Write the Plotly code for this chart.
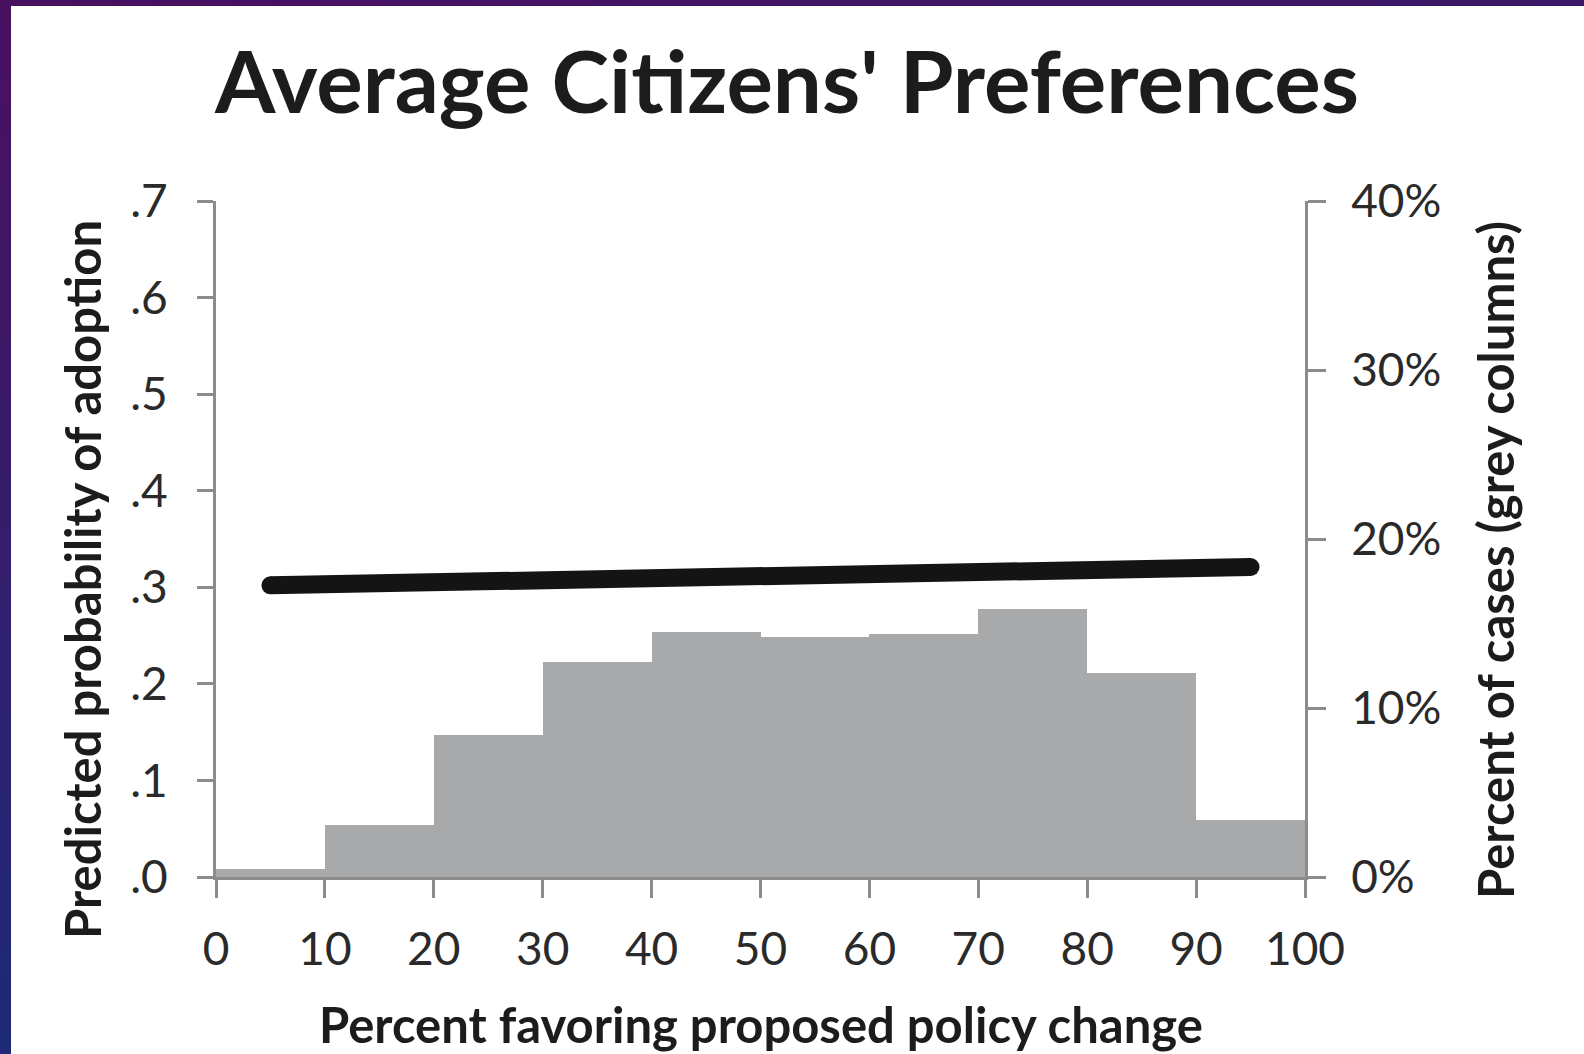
import plotly.graph_objects as go

# ---- data ----
bin_centers = [5, 15, 25, 35, 45, 55, 65, 75, 85, 95]
pct_cases = [0.5, 3.1, 8.4, 12.7, 14.5, 14.2, 14.35, 15.85, 12.1, 3.4]
line_x = [5, 50, 95]
line_y = [0.302, 0.311, 0.321]
left_tickvals = [0, 0.1, 0.2, 0.3, 0.4, 0.5, 0.6, 0.7]
left_ticktext = [".0", ".1", ".2", ".3", ".4", ".5", ".6", ".7"]
right_tickvals = [0, 10, 20, 30, 40]
right_ticktext = ["0%", "10%", "20%", "30%", "40%"]
x_tickvals = [0, 10, 20, 30, 40, 50, 60, 70, 80, 90, 100]

W, H = 1584, 1054
L, R, T, B = 216, 1305, 201, 877  # plot area in pixels

def px(x):
    return (x - L) / (R - L)

def py(y):
    return (B - y) / (B - T)

FONT = "Lato"
AX = "#8c8c8c"
TXT = "#2a2a2a"

fig = go.Figure()
fig.add_trace(go.Bar(x=bin_centers, y=pct_cases, width=10, marker=dict(color="#a8a9ab", line=dict(width=0)),
                     yaxis="y", showlegend=False))
fig.add_trace(go.Scatter(x=line_x, y=line_y, mode="lines", line=dict(color="#141414", width=18),
                         yaxis="y2", showlegend=False))
fig.add_trace(go.Scatter(x=[line_x[0], line_x[-1]], y=[line_y[0], line_y[-1]], mode="markers",
                         marker=dict(color="#141414", size=18, line=dict(width=0)), yaxis="y2", showlegend=False))

def mix(a, b, t):
    return "rgb(%d,%d,%d)" % tuple(int(a[k] + (b[k] - a[k]) * t) for k in range(3))

shapes = []
# purple/blue border: left vertical gradient band and top horizontal gradient band
n = 40
cl0, cl1 = (74, 16, 96), (30, 42, 120)
for i in range(n):
    t = i / (n - 1)
    shapes.append(dict(type="rect", xref="paper", yref="paper", x0=px(0), x1=px(11),
                       y0=py((i + 1) * H / n + 1), y1=py(i * H / n), fillcolor=mix(cl0, cl1, t),
                       line=dict(width=0), layer="above"))
ct0, ct1 = (74, 16, 96), (58, 26, 104)
for i in range(n):
    t = i / (n - 1)
    shapes.append(dict(type="rect", xref="paper", yref="paper", x0=px(i * W / n), x1=px((i + 1) * W / n + 1),
                       y0=py(6), y1=py(0), fillcolor=mix(ct0, ct1, t), line=dict(width=0), layer="above"))

annotations = [
    dict(text="<b>Average Citizens' Preferences</b>", xref="paper", yref="paper", x=px(786), y=py(80),
         showarrow=False, font=dict(family=FONT, size=87, color="#1c1c1c"), xanchor="center", yanchor="middle"),
    dict(text="<b>Predicted probability of adoption</b>", xref="paper", yref="paper", x=px(82), y=py(580),
         showarrow=False, textangle=-90, font=dict(family=FONT, size=49, color="#1c1c1c"), xanchor="center", yanchor="middle"),
    dict(text="<b>Percent of cases (grey columns)</b>", xref="paper", yref="paper", x=px(1495), y=py(560),
         showarrow=False, textangle=-90, font=dict(family=FONT, size=49, color="#1c1c1c"), xanchor="center", yanchor="middle"),
    dict(text="<b>Percent favoring proposed policy change</b>", xref="paper", yref="paper", x=px(761), y=py(1024),
         showarrow=False, font=dict(family=FONT, size=49, color="#1c1c1c"), xanchor="center", yanchor="middle"),
]

fig.update_layout(
    width=W, height=H,
    margin=dict(l=L, r=W - R, t=T, b=H - B, pad=0),
    paper_bgcolor="white", plot_bgcolor="white",
    bargap=0, showlegend=False,
    font=dict(family=FONT, color=TXT),
    xaxis=dict(range=[0, 100], tickvals=x_tickvals, showgrid=False, zeroline=False,
               showline=True, linecolor=AX, linewidth=3, ticks="outside", ticklen=18, tickwidth=3,
               tickcolor=AX, tickfont=dict(family=FONT, size=46, color=TXT), ticklabelstandoff=12),
    yaxis=dict(range=[0, 40], side="right", tickvals=right_tickvals, ticktext=right_ticktext, showgrid=False,
               zeroline=False, showline=True, linecolor=AX, linewidth=3, ticks="outside", ticklen=18,
               tickwidth=3, tickcolor=AX, tickfont=dict(family=FONT, size=46, color=TXT), ticklabelstandoff=16),
    yaxis2=dict(range=[0, 0.7], side="left", overlaying="y", tickvals=left_tickvals, ticktext=left_ticktext,
                showgrid=False, zeroline=False, showline=True, linecolor=AX, linewidth=3, ticks="outside",
                ticklen=16, tickwidth=3, tickcolor=AX, tickfont=dict(family=FONT, size=46, color=TXT),
                ticklabelstandoff=20),
    shapes=shapes,
    annotations=annotations,
)

fig.write_html("out.html", config={"displayModeBar": False},
               post_script="document.body.style.margin='0px';document.body.style.overflow='hidden';")
